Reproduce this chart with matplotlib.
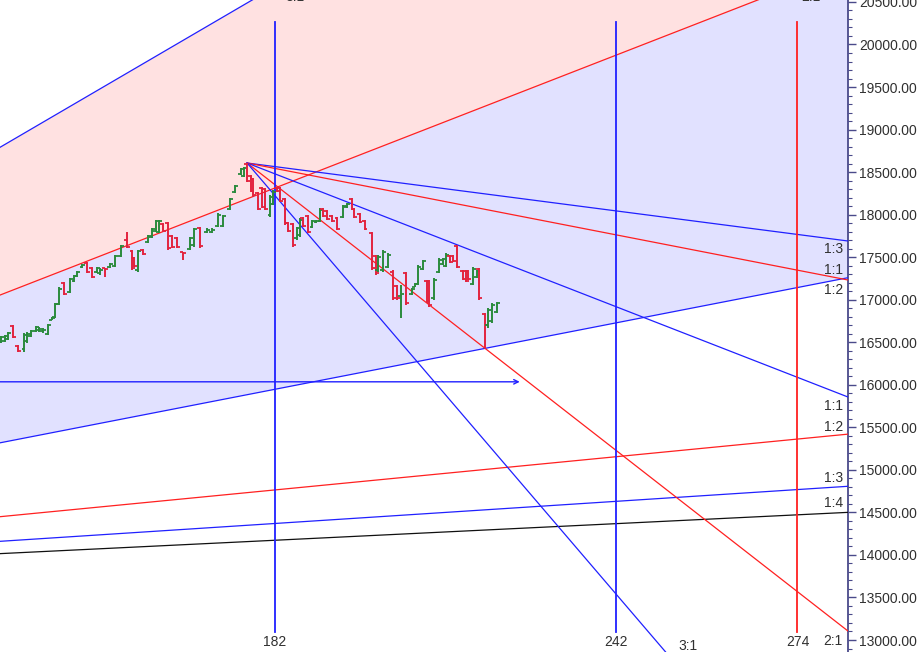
import matplotlib
matplotlib.use("Agg")
import matplotlib.pyplot as plt
from matplotlib.ticker import MultipleLocator, FormatStrFormatter
import matplotlib.transforms as mtrans
import numpy as np

plt.rcParams['font.family'] = ['Liberation Sans', 'DejaVu Sans']

# ---------------- data ----------------
bar_t = [133.8, 134.5, 135.0, 135.9, 136.8, 137.9, 138.4, 139.1, 140.0, 140.5,
         141.2, 142.1, 142.8, 143.3, 144.0, 144.9, 145.9, 146.7, 147.2, 148.1,
         148.9, 149.8, 150.7, 151.2, 152.1, 153.0, 153.9, 154.9, 156.0, 156.9,
         157.2, 157.9, 158.8, 159.7, 160.4, 161.1, 161.6, 162.3, 163.2, 163.9,
         164.8, 165.8, 167.1, 167.8, 168.8, 170.1, 170.9, 172.0, 172.9, 174.1,
         175.0, 176.0, 176.6, 177.1, 177.8, 178.2, 179.0, 179.7, 180.3, 181.2,
         181.7, 182.4, 182.9, 183.8, 184.3, 185.2, 185.9, 186.4, 187.0, 187.8,
         188.6, 189.3, 190.0, 190.5, 191.2, 192.1, 193.0, 194.0, 194.7, 195.6,
         196.0, 196.9, 197.8, 199.1, 199.8, 200.1, 201.0, 201.9, 202.8, 203.5,
         204.2, 205.1, 206.1, 206.7, 207.2, 208.1, 208.8, 209.2, 210.0, 210.9,
         211.6, 212.1, 212.8, 213.4, 214.1, 215.1, 215.7, 216.0, 216.9, 217.6,
         217.9, 219.0, 219.5, 220.2, 221.1]

bar_open = [16505, 16520, 16540, 16690, 16455, 16420, 16510, 16575, 16630, 16640,
            16630, 16600, 16765, 16800, 16950, 17195, 17090, 17220, 17275, 17380,
            17430, 17370, 17325, 17310, 17370, 17380, 17395, 17515, 17700, 17570,
            17490, 17350, 17590, 17680, 17740, 17810, 17800, 17890, 17900, 17750,
            17720, 17555, 17600, 17640, 17840, 17800, 17800, 17870, 17870, 18070,
            18265, 18480, 18460, 18590, 18450, 18420, 18250, 18310, 18300, 17990,
            18130, 18315, 18310, 18180, 17900, 17890, 17720, 17760, 17960, 17980,
            17860, 17910, 17930, 18065, 18040, 17985, 17960, 17975, 18090, 18180,
            18065, 18005, 17925, 17780, 17510, 17345, 17345, 17390, 17330, 17160,
            17040, 17310, 17070, 17155, 17190, 17365, 17215, 17220, 17020, 17330,
            17420, 17400, 17515, 17515, 17630, 17340, 17335, 17340, 17190, 17270,
            17360, 16830, 16700, 16750, 16860]

bar_high = [16573, 16585, 16620, 16703, 16467, 16609, 16620, 16644, 16691, 16679,
            16667, 16714, 16797, 16961, 17149, 17208, 17255, 17290, 17337, 17420,
            17443, 17384, 17384, 17373, 17373, 17431, 17525, 17643, 17796, 17584,
            17502, 17584, 17596, 17761, 17843, 17937, 17937, 17902, 17913, 17761,
            17737, 17561, 17737, 17843, 17855, 17843, 17843, 18019, 17996, 18195,
            18348, 18548, 18560, 18607, 18466, 18431, 18266, 18325, 18313, 18231,
            18290, 18325, 18325, 18195, 17913, 17902, 17855, 17960, 17972, 17996,
            17937, 17937, 18078, 18078, 18054, 17996, 17972, 18113, 18137, 18195,
            18078, 18019, 17937, 17796, 17525, 17525, 17584, 17549, 17349, 17173,
            17173, 17326, 17138, 17196, 17408, 17467, 17232, 17232, 17255, 17490,
            17490, 17549, 17525, 17525, 17643, 17349, 17349, 17349, 17384, 17349,
            17373, 16844, 16903, 16961, 16973]

bar_low = [16491, 16503, 16526, 16550, 16385, 16385, 16491, 16562, 16620, 16620,
           16609, 16585, 16762, 16785, 16938, 17055, 17079, 17208, 17267, 17373,
           17314, 17255, 17314, 17290, 17267, 17373, 17384, 17502, 17608, 17349,
           17384, 17326, 17525, 17667, 17725, 17796, 17784, 17796, 17584, 17608,
           17608, 17467, 17584, 17620, 17608, 17784, 17784, 17855, 17855, 18054,
           18254, 18466, 18442, 18384, 18266, 18207, 18054, 18078, 18054, 17972,
           18113, 18266, 18149, 17878, 17796, 17620, 17702, 17737, 17855, 17784,
           17843, 17902, 17913, 17972, 17937, 17913, 17819, 17960, 18078, 18054,
           17960, 17902, 17819, 17349, 17290, 17326, 17326, 17373, 16997, 16997,
           16785, 16938, 17055, 17149, 17173, 17349, 16961, 16914, 16997, 17314,
           17408, 17384, 17431, 17443, 17373, 17232, 17208, 17232, 17173, 17255,
           16997, 16430, 16667, 16726, 16844]

bar_close = [16560, 16570, 16605, 16565, 16400, 16590, 16600, 16630, 16680, 16650,
             16645, 16700, 16790, 16945, 17130, 17070, 17240, 17280, 17330, 17410,
             17330, 17270, 17370, 17350, 17360, 17420, 17510, 17630, 17620, 17370,
             17400, 17570, 17540, 17750, 17830, 17925, 17920, 17810, 17610, 17625,
             17620, 17545, 17720, 17830, 17630, 17820, 17825, 18000, 17980, 18180,
             18335, 18535, 18545, 18400, 18280, 18225, 18070, 18095, 18070, 18210,
             18270, 18280, 18165, 17900, 17810, 17640, 17840, 17940, 17870, 17800,
             17920, 17925, 18060, 17985, 17950, 17925, 17835, 18100, 18125, 18070,
             17975, 17915, 17835, 17370, 17310, 17505, 17565, 17530, 17020, 17015,
             17070, 16960, 17125, 17190, 17390, 17450, 16980, 16935, 17235, 17470,
             17480, 17530, 17445, 17455, 17390, 17245, 17225, 17245, 17365, 17335,
             17020, 16700, 16880, 16940, 16960]

# Gann fan from the low (rising) and from the high (falling)
low_pivot_t, low_pivot_p, low_unit = 0.0, 13581.0, 13.0
high_pivot_t, high_pivot_p, high_unit = 177.1, 18607.0, 26.0
rise_ratios = [3, 2, 1, 1/2, 1/3, 1/4]
rise_names = ['3:1', '2:1', '1:1', '1:2', '1:3', '1:4']
rise_colors = ['#2020ff', '#ff2020', '#2020ff', '#ff2020', '#2020ff', '#101010']
fall_ratios = [1/3, 1/2, 1, 2, 3]
fall_names = ['1:3', '1:2', '1:1', '2:1', '3:1']
fall_colors = ['#2020ff', '#ff2020', '#2020ff', '#ff2020', '#2020ff']

cycle_days = [182, 242, 274]
cycle_colors = ['#2020ff', '#2020ff', '#ff2020']
arrow_price, arrow_end_t = 16035, 225.1

x_min, x_max = 133.6, 282.9
y_min, y_max = 12859, 20523

# ---------------- figure ----------------
fig = plt.figure(figsize=(9.19, 6.52), dpi=100)
ax = fig.add_axes([0, 0, 848 / 919, 1])
ax.set_xlim(x_min, x_max)
ax.set_ylim(y_min, y_max)

xs = np.linspace(low_pivot_t, x_max + 1, 400)
def rise(r, t):
    return low_pivot_p + r * low_unit * (t - low_pivot_t)
def fall(r, t):
    return high_pivot_p - r * high_unit * (t - high_pivot_t)

ax.fill_between(xs, rise(2, xs), rise(3, xs), color='#ffe1e1', lw=0, zorder=0)
ax.fill_between(xs, rise(1, xs), rise(2, xs), color='#e1e1ff', lw=0, zorder=0)

for r, c in zip(rise_ratios, rise_colors):
    ax.plot(xs, rise(r, xs), color=c, lw=0.9, zorder=3)

xf = np.linspace(high_pivot_t, x_max + 1, 200)
for r, c in zip(fall_ratios, fall_colors):
    ax.plot(xf, fall(r, xf), color=c, lw=0.9, zorder=3)

for d, c in zip(cycle_days, cycle_colors):
    ax.axvline(d, ymin=0.031, ymax=0.966, color=c, lw=1.3, zorder=3)

ax.annotate('', xy=(arrow_end_t, arrow_price), xytext=(x_min - 1, arrow_price),
            arrowprops=dict(arrowstyle='->', color='#2020ff', lw=1.0,
                            mutation_scale=8, shrinkA=0, shrinkB=0), zorder=3)

# OHLC bars
tick = 0.5
for t, o, h, l, c in zip(bar_t, bar_open, bar_high, bar_low, bar_close):
    col = '#2a8a3c' if c >= o else '#e3223e'
    ax.vlines(t, l, h, color=col, lw=1.4, zorder=4)
    ax.hlines(o, t - tick, t, color=col, lw=1.3, zorder=4)
    ax.hlines(c, t, t + tick, color=col, lw=1.3, zorder=4)

# labels
tc = '#303030'
fs = 10
btr = mtrans.blended_transform_factory(ax.transData, ax.transAxes)
for d in cycle_days:
    ax.text(d, 0.016, str(d), transform=btr, ha='center', va='center',
            fontsize=fs, color=tc, zorder=5)

xr = x_max - 0.9
rise_label_off = {'1:1': 91, '1:2': 84, '1:3': 97, '1:4': 110}
for r, n in zip(rise_ratios, rise_names):
    if n in rise_label_off:
        ax.text(xr, rise(r, x_max) + rise_label_off[n], n, ha='right', va='center',
                fontsize=fs, color=tc, zorder=5)
fall_label_off = {'1:3': -89, '1:2': -113, '1:1': -104, '2:1': -121}
for r, n in zip(fall_ratios, fall_names):
    if n in fall_label_off:
        ax.text(xr, fall(r, x_max) + fall_label_off[n], n, ha='right', va='center',
                fontsize=fs, color=tc, zorder=5)
ax.text(254.8, 12935, '3:1', ha='center', va='center', fontsize=fs, color=tc, zorder=5)
# labels at top edge (mostly cut off, as in the reference)
ax.text(185.6, 20512, '3:1', ha='center', va='baseline', fontsize=fs, color=tc,
        zorder=5, clip_on=True)
ax.text(276.4, 20512, '2:1', ha='center', va='baseline', fontsize=fs, color=tc,
        zorder=5, clip_on=True)

# axis styling
for s in ['left', 'top', 'bottom']:
    ax.spines[s].set_visible(False)
ax.spines['right'].set_color('#4a4a8a')
ax.spines['right'].set_linewidth(1.3)
ax.set_xticks([])
ax.yaxis.tick_right()
ax.yaxis.set_major_locator(MultipleLocator(500))
ax.yaxis.set_minor_locator(MultipleLocator(100))
ax.yaxis.set_major_formatter(FormatStrFormatter('%.2f'))
ax.tick_params(axis='y', which='major', direction='out', length=6, width=1,
               color='#4a4a8a', labelsize=fs, labelcolor=tc, pad=2)
ax.tick_params(axis='y', which='minor', direction='out', length=3, width=0.8,
               color='#4a4a8a')
ax.set_facecolor('white')

fig.savefig('out.png', dpi=100)
